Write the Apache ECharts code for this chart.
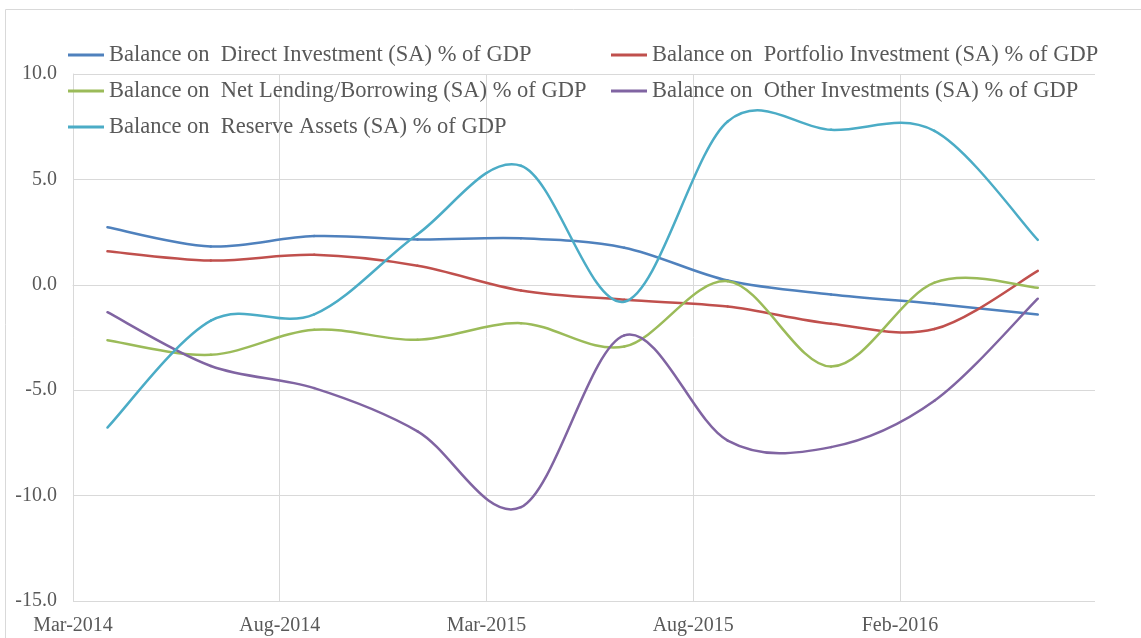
<!DOCTYPE html>
<html>
<head>
<meta charset="utf-8">
<title>Balance components % of GDP</title>
<script src="https://cdn.jsdelivr.net/npm/echarts@6.0.0/dist/echarts.min.js"></script>
<style>
  html, body { margin: 0; padding: 0; background: #fff; }
  .main { width: 1141px; height: 638px; }
</style>
</head>
<body>
<div class="main" id="main"></div>
<script>
// x is months since Mar-2014, ticks every 6 months
var xTickLabels = ['Mar-2014', 'Aug-2014', 'Mar-2015', 'Aug-2015', 'Feb-2016'];
var xMonths = [1, 4, 7, 10, 13, 16, 19, 22, 25, 28];

var seriesNames = [
    'Balance on  Direct Investment (SA) % of GDP',
    'Balance on  Portfolio Investment (SA) % of GDP',
    'Balance on  Net Lending/Borrowing (SA) % of GDP',
    'Balance on  Other Investments (SA) % of GDP',
    'Balance on  Reserve Assets (SA) % of GDP'
];
var directInv     = [2.73, 1.82, 2.31, 2.15, 2.21, 1.76, 0.2, -0.46, -0.9, -1.41];
var portfolioInv  = [1.59, 1.15, 1.42, 0.9, -0.27, -0.71, -1.03, -1.85, -2.1, 0.66];
var netLending    = [-2.63, -3.32, -2.13, -2.61, -1.82, -2.93, 0.17, -3.88, 0.1, -0.14];
var otherInv      = [-1.3, -3.85, -4.9, -6.95, -10.55, -2.4, -7.39, -7.7, -5.5, -0.66];
var reserveAssets = [-6.77, -1.7, -1.4, 2.4, 5.65, -0.8, 7.75, 7.35, 7.3, 2.13];

var colors = ['#4F81BD', '#C0504D', '#9BBB59', '#8064A2', '#4BACC6'];
var textColor = '#595959';
var gridColor = '#D9D9D9';
var font = 'Liberation Serif';

function pairs(vals) {
    return xMonths.map(function(m, i) { return [m, vals[i]]; });
}

// Excel-style smoothed line: each item draws the bezier from its point to the next,
// control points taken from the neighbours (Catmull-Rom, 1/6)
function renderSegment(params, api) {
    var i = params.dataIndexInside;
    var n = params.dataInsideLength;
    if (i >= n - 1) return null;
    function pt(k) {
        k = Math.max(0, Math.min(n - 1, k));
        return api.coord([api.value(0, k), api.value(1, k)]);
    }
    var p0 = pt(i - 1), p1 = pt(i), p2 = pt(i + 1), p3 = pt(i + 2);
    return {
        type: 'bezierCurve',
        shape: {
            x1: p1[0], y1: p1[1],
            x2: p2[0], y2: p2[1],
            cpx1: p1[0] + (p2[0] - p0[0]) / 6,
            cpy1: p1[1] + (p2[1] - p0[1]) / 6,
            cpx2: p2[0] - (p3[0] - p1[0]) / 6,
            cpy2: p2[1] - (p3[1] - p1[1]) / 6
        },
        style: { fill: 'none', stroke: api.visual('color'), lineWidth: 2.5, lineCap: 'round' }
    };
}

function makeSeries(name, vals, color) {
    return {
        name: name,
        type: 'custom',
        renderItem: renderSegment,
        encode: { x: 0, y: 1 },
        data: pairs(vals),
        itemStyle: { color: color }
    };
}

var legendBase = {
    orient: 'vertical',
    top: 43,
    padding: 0,
    icon: 'rect',
    itemWidth: 36,
    itemHeight: 3,
    itemGap: 12,
    textStyle: { fontFamily: font, fontSize: 22.5, lineHeight: 24, color: textColor }
};

var myChart = echarts.init(document.getElementById('main'));

var option = {
    animation: false,
    color: colors,
    graphic: [{
        type: 'rect',
        shape: { x: 5.5, y: 9.5, width: 1300, height: 800 },
        style: { fill: 'none', stroke: gridColor, lineWidth: 1 },
        silent: true
    }],
    legend: [
        Object.assign({}, legendBase, { left: 68, data: [seriesNames[0], seriesNames[2], seriesNames[4]] }),
        Object.assign({}, legendBase, { left: 611, data: [seriesNames[1], seriesNames[3]] })
    ],
    grid: { left: 73, right: 46, top: 74, bottom: 37 },
    xAxis: {
        type: 'value',
        min: 0,
        max: 29.66,
        interval: 6,
        axisLine: { show: true, lineStyle: { color: gridColor } },
        axisTick: { show: false },
        splitLine: { show: true, showMaxLine: false, lineStyle: { color: gridColor, width: 1 } },
        axisLabel: {
            showMaxLabel: false,
            margin: 15,
            fontFamily: font,
            fontSize: 20,
            color: textColor,
            formatter: function(v) {
                var k = Math.round(v / 6);
                return Math.abs(v - k * 6) < 1e-6 && xTickLabels[k] ? xTickLabels[k] : '';
            }
        }
    },
    yAxis: {
        type: 'value',
        min: -15,
        max: 10,
        interval: 5,
        axisLine: { show: true, lineStyle: { color: gridColor } },
        axisTick: { show: false },
        splitLine: { show: true, lineStyle: { color: gridColor, width: 1 } },
        axisLabel: {
            margin: 16,
            fontFamily: font,
            fontSize: 20,
            color: textColor,
            formatter: function(v) { return v.toFixed(1); }
        }
    },
    series: [
        makeSeries(seriesNames[0], directInv, colors[0]),
        makeSeries(seriesNames[1], portfolioInv, colors[1]),
        makeSeries(seriesNames[2], netLending, colors[2]),
        makeSeries(seriesNames[3], otherInv, colors[3]),
        makeSeries(seriesNames[4], reserveAssets, colors[4])
    ]
};

myChart.setOption(option);
</script>
</body>
</html>
